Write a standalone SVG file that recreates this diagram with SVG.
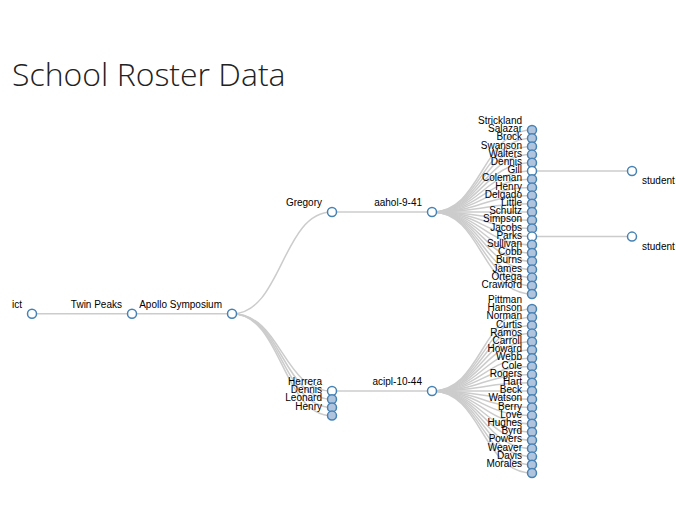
<svg xmlns="http://www.w3.org/2000/svg" width="676" height="521" viewBox="0 0 676 521">
<style>
.link{fill:none;stroke:#ccc;stroke-width:1.5}
.node circle{stroke:#4682b4;stroke-width:1.5;fill:#b0c4de}
.node.open circle{fill:#fff}
.node text{font-family:"Liberation Sans",Arial,sans-serif;font-size:10px;fill:#000;text-anchor:end}
.node.leaf text{text-anchor:start}
.title{font-family:"Open Sans",sans-serif;font-weight:300;font-size:32px;fill:#222}
</style>
<rect width="676" height="521" fill="#fff"/>
<text class="title" x="12" y="86">School Roster Data</text>
<g id="links">
<path class="link" d="M32,313.8H232"/>
<path class="link" d="M232,313.8C282,313.8 282,212 332,212"/>
<path class="link" d="M232,313.8C282,313.8 282,391 332,391"/>
<path class="link" d="M232,313.8C282,313.8 282,399.2 332,399.2"/>
<path class="link" d="M232,313.8C282,313.8 282,407.4 332,407.4"/>
<path class="link" d="M232,313.8C282,313.8 282,415.6 332,415.6"/>
<path class="link" d="M332,212H432"/>
<path class="link" d="M332,391H432"/>
<path class="link" d="M532,171H632"/>
<path class="link" d="M532,236.6H632"/>
<path class="link" d="M432,212C482,212 482,130 532,130"/>
<path class="link" d="M432,212C482,212 482,138.2 532,138.2"/>
<path class="link" d="M432,212C482,212 482,146.4 532,146.4"/>
<path class="link" d="M432,212C482,212 482,154.6 532,154.6"/>
<path class="link" d="M432,212C482,212 482,162.8 532,162.8"/>
<path class="link" d="M432,212C482,212 482,171 532,171"/>
<path class="link" d="M432,212C482,212 482,179.2 532,179.2"/>
<path class="link" d="M432,212C482,212 482,187.4 532,187.4"/>
<path class="link" d="M432,212C482,212 482,195.6 532,195.6"/>
<path class="link" d="M432,212C482,212 482,203.8 532,203.8"/>
<path class="link" d="M432,212C482,212 482,212 532,212"/>
<path class="link" d="M432,212C482,212 482,220.2 532,220.2"/>
<path class="link" d="M432,212C482,212 482,228.4 532,228.4"/>
<path class="link" d="M432,212C482,212 482,236.6 532,236.6"/>
<path class="link" d="M432,212C482,212 482,244.8 532,244.8"/>
<path class="link" d="M432,212C482,212 482,253 532,253"/>
<path class="link" d="M432,212C482,212 482,261.2 532,261.2"/>
<path class="link" d="M432,212C482,212 482,269.4 532,269.4"/>
<path class="link" d="M432,212C482,212 482,277.6 532,277.6"/>
<path class="link" d="M432,212C482,212 482,285.8 532,285.8"/>
<path class="link" d="M432,212C482,212 482,294 532,294"/>
<path class="link" d="M432,391C482,391 482,309 532,309"/>
<path class="link" d="M432,391C482,391 482,317.2 532,317.2"/>
<path class="link" d="M432,391C482,391 482,325.4 532,325.4"/>
<path class="link" d="M432,391C482,391 482,333.6 532,333.6"/>
<path class="link" d="M432,391C482,391 482,341.8 532,341.8"/>
<path class="link" d="M432,391C482,391 482,350 532,350"/>
<path class="link" d="M432,391C482,391 482,358.2 532,358.2"/>
<path class="link" d="M432,391C482,391 482,366.4 532,366.4"/>
<path class="link" d="M432,391C482,391 482,374.6 532,374.6"/>
<path class="link" d="M432,391C482,391 482,382.8 532,382.8"/>
<path class="link" d="M432,391C482,391 482,391 532,391"/>
<path class="link" d="M432,391C482,391 482,399.2 532,399.2"/>
<path class="link" d="M432,391C482,391 482,407.4 532,407.4"/>
<path class="link" d="M432,391C482,391 482,415.6 532,415.6"/>
<path class="link" d="M432,391C482,391 482,423.8 532,423.8"/>
<path class="link" d="M432,391C482,391 482,432 532,432"/>
<path class="link" d="M432,391C482,391 482,440.2 532,440.2"/>
<path class="link" d="M432,391C482,391 482,448.4 532,448.4"/>
<path class="link" d="M432,391C482,391 482,456.6 532,456.6"/>
<path class="link" d="M432,391C482,391 482,464.8 532,464.8"/>
<path class="link" d="M432,391C482,391 482,473 532,473"/>
</g>
<g id="n-ict" class="node open" transform="translate(32,313.8)"><circle r="4.5"/><text x="-10" y="-6">ict</text></g>
<g id="n-twin-peaks" class="node open" transform="translate(132,313.8)"><circle r="4.5"/><text x="-10" y="-6">Twin Peaks</text></g>
<g id="n-apollo" class="node open" transform="translate(232,313.8)"><circle r="4.5"/><text x="-10" y="-6">Apollo Symposium</text></g>
<g id="n-gregory" class="node open" transform="translate(332,212)"><circle r="4.5"/><text x="-10" y="-6">Gregory</text></g>
<g id="n-aahol" class="node open" transform="translate(432,212)"><circle r="4.5"/><text x="-10" y="-6">aahol-9-41</text></g>
<g id="n-herrera" class="node open" transform="translate(332,391)"><circle r="4.5"/><text x="-10" y="-6">Herrera</text></g>
<g id="n-h-dennis" class="node" transform="translate(332,399.2)"><circle r="4.5"/><text x="-10" y="-6">Dennis</text></g>
<g id="n-h-leonard" class="node" transform="translate(332,407.4)"><circle r="4.5"/><text x="-10" y="-6">Leonard</text></g>
<g id="n-h-henry" class="node" transform="translate(332,415.6)"><circle r="4.5"/><text x="-10" y="-6">Henry</text></g>
<g id="n-acipl" class="node open" transform="translate(432,391)"><circle r="4.5"/><text x="-10" y="-6">acipl-10-44</text></g>
<g id="n-strickland" class="node" transform="translate(532,130)"><circle r="4.5"/><text x="-10" y="-6">Strickland</text></g>
<g id="n-salazar" class="node" transform="translate(532,138.2)"><circle r="4.5"/><text x="-10" y="-6">Salazar</text></g>
<g id="n-brock" class="node" transform="translate(532,146.4)"><circle r="4.5"/><text x="-10" y="-6">Brock</text></g>
<g id="n-swanson" class="node" transform="translate(532,154.6)"><circle r="4.5"/><text x="-10" y="-6">Swanson</text></g>
<g id="n-walters" class="node" transform="translate(532,162.8)"><circle r="4.5"/><text x="-10" y="-6">Walters</text></g>
<g id="n-dennis" class="node open" transform="translate(532,171)"><circle r="4.5"/><text x="-10" y="-6">Dennis</text></g>
<g id="n-gill" class="node" transform="translate(532,179.2)"><circle r="4.5"/><text x="-10" y="-6">Gill</text></g>
<g id="n-coleman" class="node" transform="translate(532,187.4)"><circle r="4.5"/><text x="-10" y="-6">Coleman</text></g>
<g id="n-henry" class="node" transform="translate(532,195.6)"><circle r="4.5"/><text x="-10" y="-6">Henry</text></g>
<g id="n-delgado" class="node" transform="translate(532,203.8)"><circle r="4.5"/><text x="-10" y="-6">Delgado</text></g>
<g id="n-little" class="node" transform="translate(532,212)"><circle r="4.5"/><text x="-10" y="-6">Little</text></g>
<g id="n-schultz" class="node" transform="translate(532,220.2)"><circle r="4.5"/><text x="-10" y="-6">Schultz</text></g>
<g id="n-simpson" class="node" transform="translate(532,228.4)"><circle r="4.5"/><text x="-10" y="-6">Simpson</text></g>
<g id="n-jacobs" class="node open" transform="translate(532,236.6)"><circle r="4.5"/><text x="-10" y="-6">Jacobs</text></g>
<g id="n-parks" class="node" transform="translate(532,244.8)"><circle r="4.5"/><text x="-10" y="-6">Parks</text></g>
<g id="n-sullivan" class="node" transform="translate(532,253)"><circle r="4.5"/><text x="-10" y="-6">Sullivan</text></g>
<g id="n-cobb" class="node" transform="translate(532,261.2)"><circle r="4.5"/><text x="-10" y="-6">Cobb</text></g>
<g id="n-burns" class="node" transform="translate(532,269.4)"><circle r="4.5"/><text x="-10" y="-6">Burns</text></g>
<g id="n-james" class="node" transform="translate(532,277.6)"><circle r="4.5"/><text x="-10" y="-6">James</text></g>
<g id="n-ortega" class="node" transform="translate(532,285.8)"><circle r="4.5"/><text x="-10" y="-6">Ortega</text></g>
<g id="n-crawford" class="node" transform="translate(532,294)"><circle r="4.5"/><text x="-10" y="-6">Crawford</text></g>
<g id="n-pittman" class="node" transform="translate(532,309)"><circle r="4.5"/><text x="-10" y="-6">Pittman</text></g>
<g id="n-hanson" class="node" transform="translate(532,317.2)"><circle r="4.5"/><text x="-10" y="-6">Hanson</text></g>
<g id="n-norman" class="node" transform="translate(532,325.4)"><circle r="4.5"/><text x="-10" y="-6">Norman</text></g>
<g id="n-curtis" class="node" transform="translate(532,333.6)"><circle r="4.5"/><text x="-10" y="-6">Curtis</text></g>
<g id="n-ramos" class="node" transform="translate(532,341.8)"><circle r="4.5"/><text x="-10" y="-6">Ramos</text></g>
<g id="n-carroll" class="node" transform="translate(532,350)"><circle r="4.5"/><text x="-10" y="-6">Carroll</text></g>
<g id="n-howard" class="node" transform="translate(532,358.2)"><circle r="4.5"/><text x="-10" y="-6">Howard</text></g>
<g id="n-webb" class="node" transform="translate(532,366.4)"><circle r="4.5"/><text x="-10" y="-6">Webb</text></g>
<g id="n-cole" class="node" transform="translate(532,374.6)"><circle r="4.5"/><text x="-10" y="-6">Cole</text></g>
<g id="n-rogers" class="node" transform="translate(532,382.8)"><circle r="4.5"/><text x="-10" y="-6">Rogers</text></g>
<g id="n-hart" class="node" transform="translate(532,391)"><circle r="4.5"/><text x="-10" y="-6">Hart</text></g>
<g id="n-beck" class="node" transform="translate(532,399.2)"><circle r="4.5"/><text x="-10" y="-6">Beck</text></g>
<g id="n-watson" class="node" transform="translate(532,407.4)"><circle r="4.5"/><text x="-10" y="-6">Watson</text></g>
<g id="n-berry" class="node" transform="translate(532,415.6)"><circle r="4.5"/><text x="-10" y="-6">Berry</text></g>
<g id="n-love" class="node" transform="translate(532,423.8)"><circle r="4.5"/><text x="-10" y="-6">Love</text></g>
<g id="n-hughes" class="node" transform="translate(532,432)"><circle r="4.5"/><text x="-10" y="-6">Hughes</text></g>
<g id="n-byrd" class="node" transform="translate(532,440.2)"><circle r="4.5"/><text x="-10" y="-6">Byrd</text></g>
<g id="n-powers" class="node" transform="translate(532,448.4)"><circle r="4.5"/><text x="-10" y="-6">Powers</text></g>
<g id="n-weaver" class="node" transform="translate(532,456.6)"><circle r="4.5"/><text x="-10" y="-6">Weaver</text></g>
<g id="n-davis" class="node" transform="translate(532,464.8)"><circle r="4.5"/><text x="-10" y="-6">Davis</text></g>
<g id="n-morales" class="node" transform="translate(532,473)"><circle r="4.5"/><text x="-10" y="-6">Morales</text></g>
<g id="n-student-1" class="node open leaf" transform="translate(632,171)"><circle r="4.5"/><text x="10" y="13">student</text></g>
<g id="n-student-2" class="node open leaf" transform="translate(632,236.6)"><circle r="4.5"/><text x="10" y="13">student</text></g>
</svg>
